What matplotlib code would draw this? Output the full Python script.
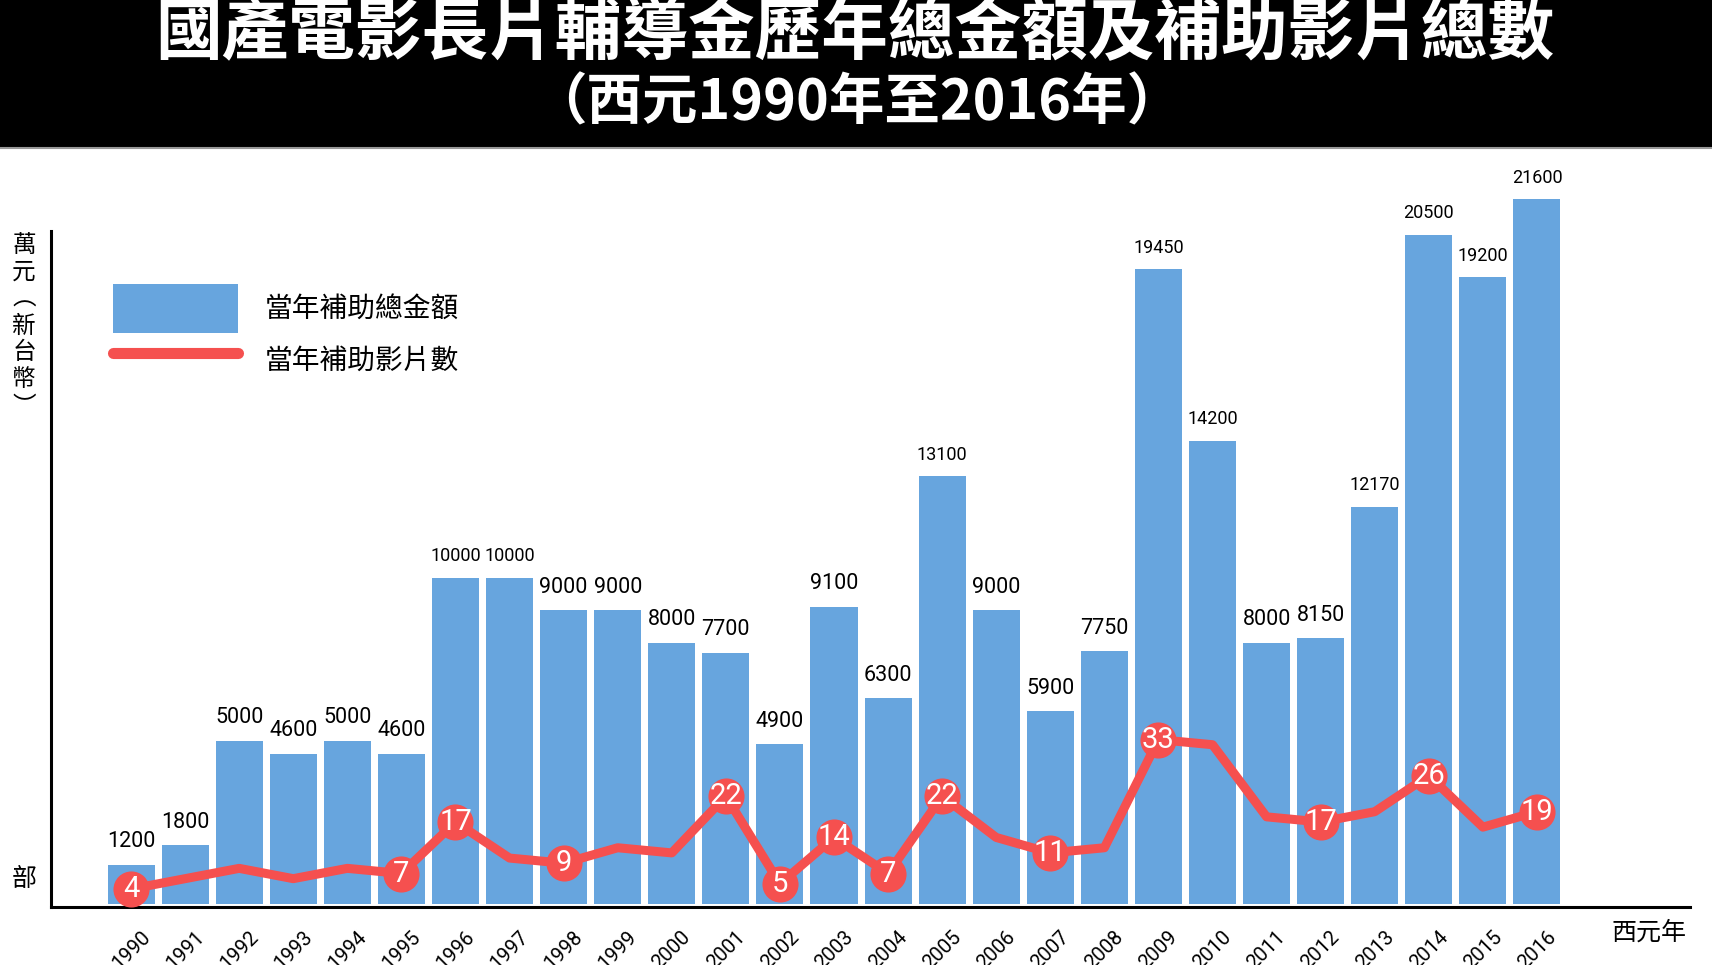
import matplotlib.pyplot as plt
from matplotlib.patches import Patch, Rectangle
from matplotlib.lines import Line2D

plt.rcParams['font.family'] = ['Noto Sans CJK TC', 'DejaVu Sans']
NARROW = ['Liberation Sans Narrow', 'Roboto', 'DejaVu Sans']

# data
years = ['1990', '1991', '1992', '1993', '1994', '1995', '1996', '1997', '1998',
         '1999', '2000', '2001', '2002', '2003', '2004', '2005', '2006', '2007',
         '2008', '2009', '2010', '2011', '2012', '2013', '2014', '2015', '2016']
amounts = [1200, 1800, 5000, 4600, 5000, 4600, 10000, 10000, 9000, 9000, 8000,
           7700, 4900, 9100, 6300, 13100, 9000, 5900, 7750, 19450, 14200, 8000,
           8150, 12170, 20500, 19200, 21600]
films = [4, 6, 8, 6, 8, 7, 17, 10, 9, 12, 11, 22, 5, 14, 7, 22, 14, 11, 12, 33,
         32, 18, 17, 19, 26, 16, 19]
# years whose film count is shown in a circle
marked_years = ['1990', '1995', '1996', '1998', '2001', '2002', '2003', '2004',
                '2005', '2007', '2009', '2012', '2014', '2016']

BLUE = '#67a5de'
RED = '#f5504f'

fig = plt.figure(figsize=(17.12, 9.65), dpi=100)
W, H = 1712, 965

# black header
fig.patches.append(Rectangle((0, 1 - 147 / H), 1, 147 / H, transform=fig.transFigure,
                             facecolor='black', edgecolor='none', zorder=0))
fig.lines.append(Line2D([0, 1], [1 - 148 / H, 1 - 148 / H], transform=fig.transFigure,
                        color='#999999', lw=1.5))
fig.text(855 / W, 1 - 35 / H, '國產電影長片輔導金歷年總金額及補助影片總數',
         color='white', fontsize=48, weight='heavy', ha='center', va='center')
fig.text(857 / W, 1 - 103 / H, '（西元1990年至2016年）',
         color='white', fontsize=40, weight='heavy', ha='center', va='center')

ax = fig.add_axes([51 / W, 1 - 907 / H, (1690 - 51) / W, (907 - 160) / H])
x = list(range(len(years)))
ax.set_xlim(-1.48, 28.83)
ax.set_ylim(-92, 22796)

bars = ax.bar(x, amounts, width=0.87, color=BLUE, zorder=2)
labels = ax.bar_label(bars, labels=[str(a) for a in amounts], padding=9,
                      family=NARROW)
for t, a in zip(labels, amounts):
    t.set_fontsize(13 if a >= 10000 else 15.5)

for s in ['top', 'right']:
    ax.spines[s].set_visible(False)
ax.spines['left'].set_bounds(-92, 20620)
ax.spines['left'].set_linewidth(2.2)
ax.spines['bottom'].set_linewidth(2.2)
ax.set_xticks(x, years, rotation=45, fontsize=14.5, family=NARROW)

# film count line on its own scale
ax2 = ax.twinx()
ax2.set_ylim(0.5, 145.5)
ax2.set_axis_off()
ax.tick_params(left=False, labelleft=False, right=False, bottom=False, pad=11)
ax2.plot(x, films, color=RED, lw=6.5, solid_joinstyle='round',
         solid_capstyle='round', zorder=3)
mx = [years.index(y) for y in marked_years]
my = [films[i] for i in mx]
ax2.plot(mx, my, 'o', ms=26, color=RED, mec='none', zorder=4)
for xi, yi in zip(mx, my):
    ax2.text(xi, yi, str(yi), ha='center', va='center', color='white',
             fontsize=21, family=NARROW, zorder=5)

handles = [Patch(facecolor=BLUE, edgecolor='none'),
           Line2D([], [], color=RED, lw=8, solid_capstyle='round')]
ax.legend(handles, ['當年補助總金額', '當年補助影片數'], loc='upper left',
          bbox_to_anchor=(113 / W, 1 - 284 / H), bbox_transform=fig.transFigure,
          frameon=False, fontsize=20, handlelength=4.5, handleheight=2.35,
          handletextpad=0.95, labelspacing=0.1, borderpad=0, borderaxespad=0)

fig.text(24 / W, 1 - 326 / H, '萬\n元\n︵\n新\n台\n幣\n︶', ha='center', va='center',
         fontsize=17, linespacing=1.22)
fig.text(24 / W, 1 - 879 / H, '部', ha='center', va='center', fontsize=18)
fig.text(1649 / W, 1 - 933 / H, '西元年', ha='center', va='center', fontsize=18)

fig.savefig('out.png', dpi=100)
